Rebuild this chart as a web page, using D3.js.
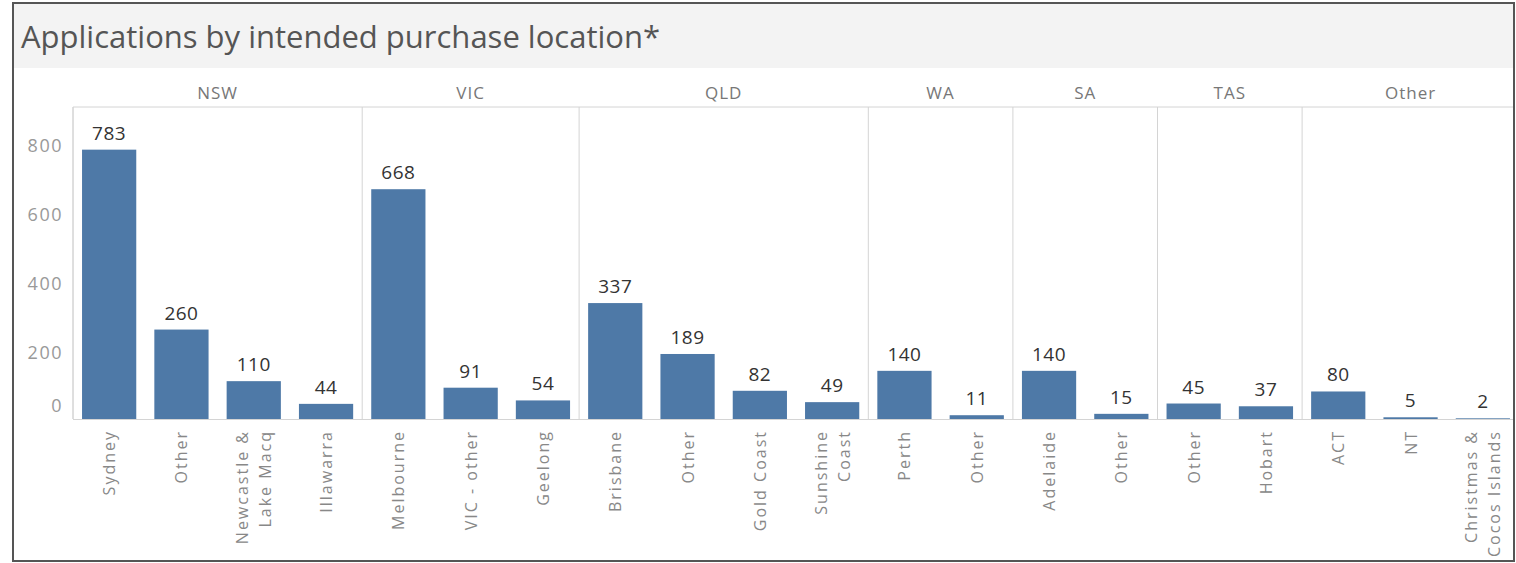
<!DOCTYPE html>
<html>
<head>
<meta charset="utf-8">
<title>Applications by intended purchase location</title>
<script src="https://d3js.org/d3.v7.min.js"></script>
<style>
  body { margin: 0; background: #fff; }
  svg { display: block; }
</style>
</head>
<body>
<div id="chart"></div>
<script>
// states (panel headers), the locations inside each, and application counts
var states = ["NSW", "VIC", "QLD", "WA", "SA", "TAS", "Other"];
var locations = [
  ["Sydney", "Other", "Newcastle &\nLake Macq", "Illawarra"],
  ["Melbourne", "VIC - other", "Geelong"],
  ["Brisbane", "Other", "Gold Coast", "Sunshine\nCoast"],
  ["Perth", "Other"],
  ["Adelaide", "Other"],
  ["Other", "Hobart"],
  ["ACT", "NT", "Christmas &\nCocos Islands"]
];
var applications = [
  [783, 260, 110, 44],
  [668, 91, 54],
  [337, 189, 82, 49],
  [140, 11],
  [140, 15],
  [45, 37],
  [80, 5, 2]
];
var yTicks = [0, 200, 400, 600, 800];

var width = 1516, height = 563;
var plotLeft = 73, plotRight = 1519, plotTop = 107, plotBottom = 419;
var font = "'Open Sans', 'DejaVu Sans', sans-serif";

// flatten into one row per bar
var rows = [];
states.forEach(function (s, i) {
  locations[i].forEach(function (loc, j) {
    rows.push({ state: s, loc: loc, value: applications[i][j], key: s + "|" + j, first: j === 0 });
  });
});

var svg = d3.select("#chart").append("svg")
  .attr("width", width).attr("height", height);

// title band
svg.append("rect").attr("x", 14).attr("y", 4).attr("width", 1500).attr("height", 64)
  .attr("fill", "#f3f3f3");
svg.append("text").attr("x", 21).attr("y", 48)
  .style("font-family", font).style("font-size", "31px").attr("fill", "#555")
  .text("Applications by intended purchase location*");

var x = d3.scaleBand()
  .domain(rows.map(function (d) { return d.key; }))
  .range([plotLeft, plotRight])
  .paddingInner(0.25)
  .paddingOuter(0.125);

var y = d3.scaleLinear().domain([0, 907]).range([plotBottom, plotTop]);

var gap = (x.step() - x.bandwidth()) / 2;

svg.append("clipPath").attr("id", "clip")
  .append("rect").attr("x", 0).attr("y", 0).attr("width", 1513).attr("height", height);

var g = svg.append("g").attr("clip-path", "url(#clip)");

// panel boundaries
var edges = rows.filter(function (d) { return d.first; }).map(function (d) { return x(d.key) - gap; });
edges.push(plotRight);

g.append("line").attr("x1", plotLeft).attr("x2", plotRight).attr("y1", plotTop).attr("y2", plotTop)
  .attr("stroke", "#d4d4d4");
g.append("line").attr("x1", plotLeft).attr("x2", plotRight).attr("y1", plotBottom + 0.5).attr("y2", plotBottom + 0.5)
  .attr("stroke", "#d4d4d4");
g.selectAll(".divider").data(edges.slice(0, -1)).enter().append("line")
  .attr("class", "divider")
  .attr("x1", function (d) { return d; }).attr("x2", function (d) { return d; })
  .attr("y1", plotTop).attr("y2", plotBottom)
  .attr("stroke", "#d4d4d4");

// panel headers
g.selectAll(".header").data(states).enter().append("text")
  .attr("class", "header")
  .attr("x", function (d, i) { return (edges[i] + edges[i + 1]) / 2; })
  .attr("y", 99)
  .attr("text-anchor", "middle")
  .style("font-family", font).style("font-size", "17px").style("letter-spacing", "1px")
  .attr("fill", "#777")
  .text(function (d) { return d; });

// bars
g.selectAll(".bar").data(rows).enter().append("rect")
  .attr("class", "bar")
  .attr("x", function (d) { return x(d.key); })
  .attr("width", x.bandwidth())
  .attr("y", function (d) { return y(d.value); })
  .attr("height", function (d) { return y(0) - y(d.value); })
  .attr("fill", "#4e79a7");

// value labels
g.selectAll(".val").data(rows).enter().append("text")
  .attr("class", "val")
  .attr("x", function (d) { return x(d.key) + x.bandwidth() / 2; })
  .attr("y", function (d) { return y(d.value) - 10; })
  .attr("text-anchor", "middle")
  .style("font-family", font).style("font-size", "19px").style("letter-spacing", "0.5px")
  .attr("fill", "#333")
  .text(function (d) { return d.value; });

// rotated location labels
var lh = 23;
var labels = g.selectAll(".loc").data(rows).enter().append("text")
  .attr("class", "loc")
  .attr("transform", function (d) {
    return "translate(" + (x(d.key) + x.bandwidth() / 2) + ",430) rotate(-90)";
  })
  .attr("text-anchor", "end")
  .style("font-family", font).style("font-size", "16px").style("letter-spacing", "2px")
  .attr("fill", "#888");
labels.each(function (d) {
  var lines = d.loc.split("\n");
  var t = d3.select(this);
  lines.forEach(function (line, k) {
    t.append("tspan").attr("x", 0)
      .attr("y", 6 + (k - (lines.length - 1) / 2) * lh)
      .text(line);
  });
});

// y axis
var yAxis = svg.append("g")
  .attr("transform", "translate(" + (plotLeft - 10) + ",0)")
  .call(d3.axisLeft(y).tickValues(yTicks).tickSize(0).tickPadding(0));
yAxis.select(".domain").remove();
yAxis.selectAll("text")
  .style("font-family", font).style("font-size", "18px").style("letter-spacing", "1.5px")
  .attr("fill", "#999")
  .attr("dy", function (d) { return d === 0 ? "-0.4em" : "0.45em"; });

svg.append("line").attr("x1", plotLeft).attr("x2", plotLeft).attr("y1", plotTop).attr("y2", plotBottom)
  .attr("stroke", "#d4d4d4");

// outer frame
svg.append("rect").attr("x", 13).attr("y", 3).attr("width", 1501).attr("height", 558)
  .attr("fill", "none").attr("stroke", "#555").attr("stroke-width", 2);
</script>
</body>
</html>
